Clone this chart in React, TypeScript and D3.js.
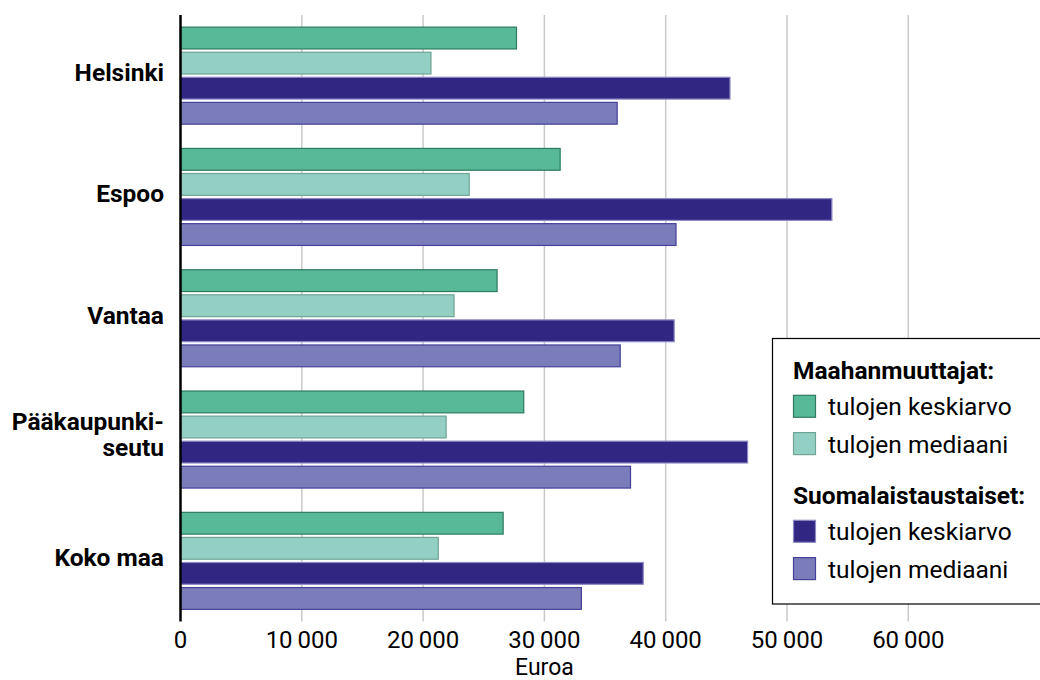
import React from "react";
import * as d3 from "d3";

const categories = ["Helsinki", "Espoo", "Vantaa", "Pääkaupunki-seutu", "Koko maa"];
const categoryLines = [["Helsinki"], ["Espoo"], ["Vantaa"], ["Pääkaupunki-", "seutu"], ["Koko maa"]];

const immigrantMean = [27700, 31300, 26100, 28300, 26600];
const immigrantMedian = [20650, 23800, 22550, 21900, 21250];
const finnishMean = [45300, 53700, 40700, 46750, 38150];
const finnishMedian = [36000, 40850, 36250, 37100, 33050];

const seriesKeys = ["immMean", "immMedian", "finMean", "finMedian"];
const seriesValues = [immigrantMean, immigrantMedian, finnishMean, finnishMedian];
const seriesFill = ["#57b997", "#93d0c3", "#312783", "#7a7dba"];
const seriesStroke = ["#2e7b5f", "#6ea494", "#8d89c4", "#45419a"];

const xTicks = [0, 10000, 20000, 30000, 40000, 50000, 60000];
const gridTicks = [10000, 20000, 30000, 40000, 50000, 60000];

const legendGroups = [
  { title: "Maahanmuuttajat:", items: [{ label: "tulojen keskiarvo", s: 0 }, { label: "tulojen mediaani", s: 1 }] },
  { title: "Suomalaistaustaiset:", items: [{ label: "tulojen keskiarvo", s: 2 }, { label: "tulojen mediaani", s: 3 }] },
];

const W = 1040;
const H = 680;
const FONT = "Roboto, 'Liberation Sans', sans-serif";

export default function App() {
  const x = d3.scaleLinear().domain([0, 70000]).range([180.5, 180.5 + 70000 * 0.01213]);
  const y0 = d3.scaleBand<string>().domain(categories).range([15, 621.5]).paddingInner(0.2).paddingOuter(0.1);
  const y1 = d3.scaleBand<string>().domain(seriesKeys).range([0, y0.bandwidth()]).paddingInner(0.13).paddingOuter(0);
  const fmt = (v: number) => d3.format(",")(v).replace(/,/g, "\u2009");

  const top = 15;
  const bottom = 621.5;

  return (
    <svg width={W} height={H} style={{ position: "absolute", left: 0, top: 0, background: "#fff" }} fontFamily={FONT}>
      <rect x={0} y={0} width={W} height={H} fill="#fff" />
      {gridTicks.map((t) => (
        <line key={t} x1={x(t)} x2={x(t)} y1={top} y2={bottom} stroke="#c9c9c9" strokeWidth={1.5} />
      ))}
      {categories.map((c, ci) => (
        <g key={c} transform={`translate(0,${y0(c)})`}>
          {seriesKeys.map((k, si) => (
            <rect
              key={k}
              x={x(0)}
              y={y1(k)}
              width={x(seriesValues[si][ci]) - x(0)}
              height={y1.bandwidth()}
              fill={seriesFill[si]}
              stroke={seriesStroke[si]}
              strokeWidth={1.2}
            />
          ))}
        </g>
      ))}
      <line x1={x(0)} x2={x(0)} y1={top} y2={bottom} stroke="#000" strokeWidth={2.5} />
      {categories.map((c, ci) => {
        const lines = categoryLines[ci];
        const cy = (y0(c) as number) + y0.bandwidth() / 2;
        const lh = 26;
        const start = cy + 5.5 - ((lines.length - 1) * lh) / 2 - (lines.length > 1 ? 2.5 : 0);
        return (
          <text key={c} x={164} textAnchor="end" fontWeight={700} fontSize={24.5} fill="#000">
            {lines.map((l, li) => (
              <tspan key={li} x={164} y={start + li * lh}>
                {l}
              </tspan>
            ))}
          </text>
        );
      })}
      {xTicks.map((t) => (
        <text key={t} x={x(t)} y={648} textAnchor="middle" fontSize={24} fill="#000">
          {fmt(t)}
        </text>
      ))}
      <text x={(x(0) + x(60000)) / 2} y={675} textAnchor="middle" fontSize={23} fill="#000">
        Euroa
      </text>
      <g>
        <rect x={772.5} y={338.5} width={300} height={265.5} fill="#fff" stroke="#000" strokeWidth={1.2} />
        {legendGroups.map((g, gi) => {
          const base = 379.3 + gi * 125;
          return (
            <g key={gi}>
              <text x={793} y={base} fontWeight={700} fontSize={24.5} fill="#000">
                {g.title}
              </text>
              {g.items.map((it, ii) => {
                const sy = base + 16 + ii * 37.3;
                return (
                  <g key={ii}>
                    <rect x={793.5} y={sy} width={22} height={22} fill={seriesFill[it.s]} stroke={seriesStroke[it.s]} strokeWidth={1.2} />
                    <text x={828} y={sy + 20} fontSize={24.5} fill="#000">
                      {it.label}
                    </text>
                  </g>
                );
              })}
            </g>
          );
        })}
      </g>
    </svg>
  );
}
